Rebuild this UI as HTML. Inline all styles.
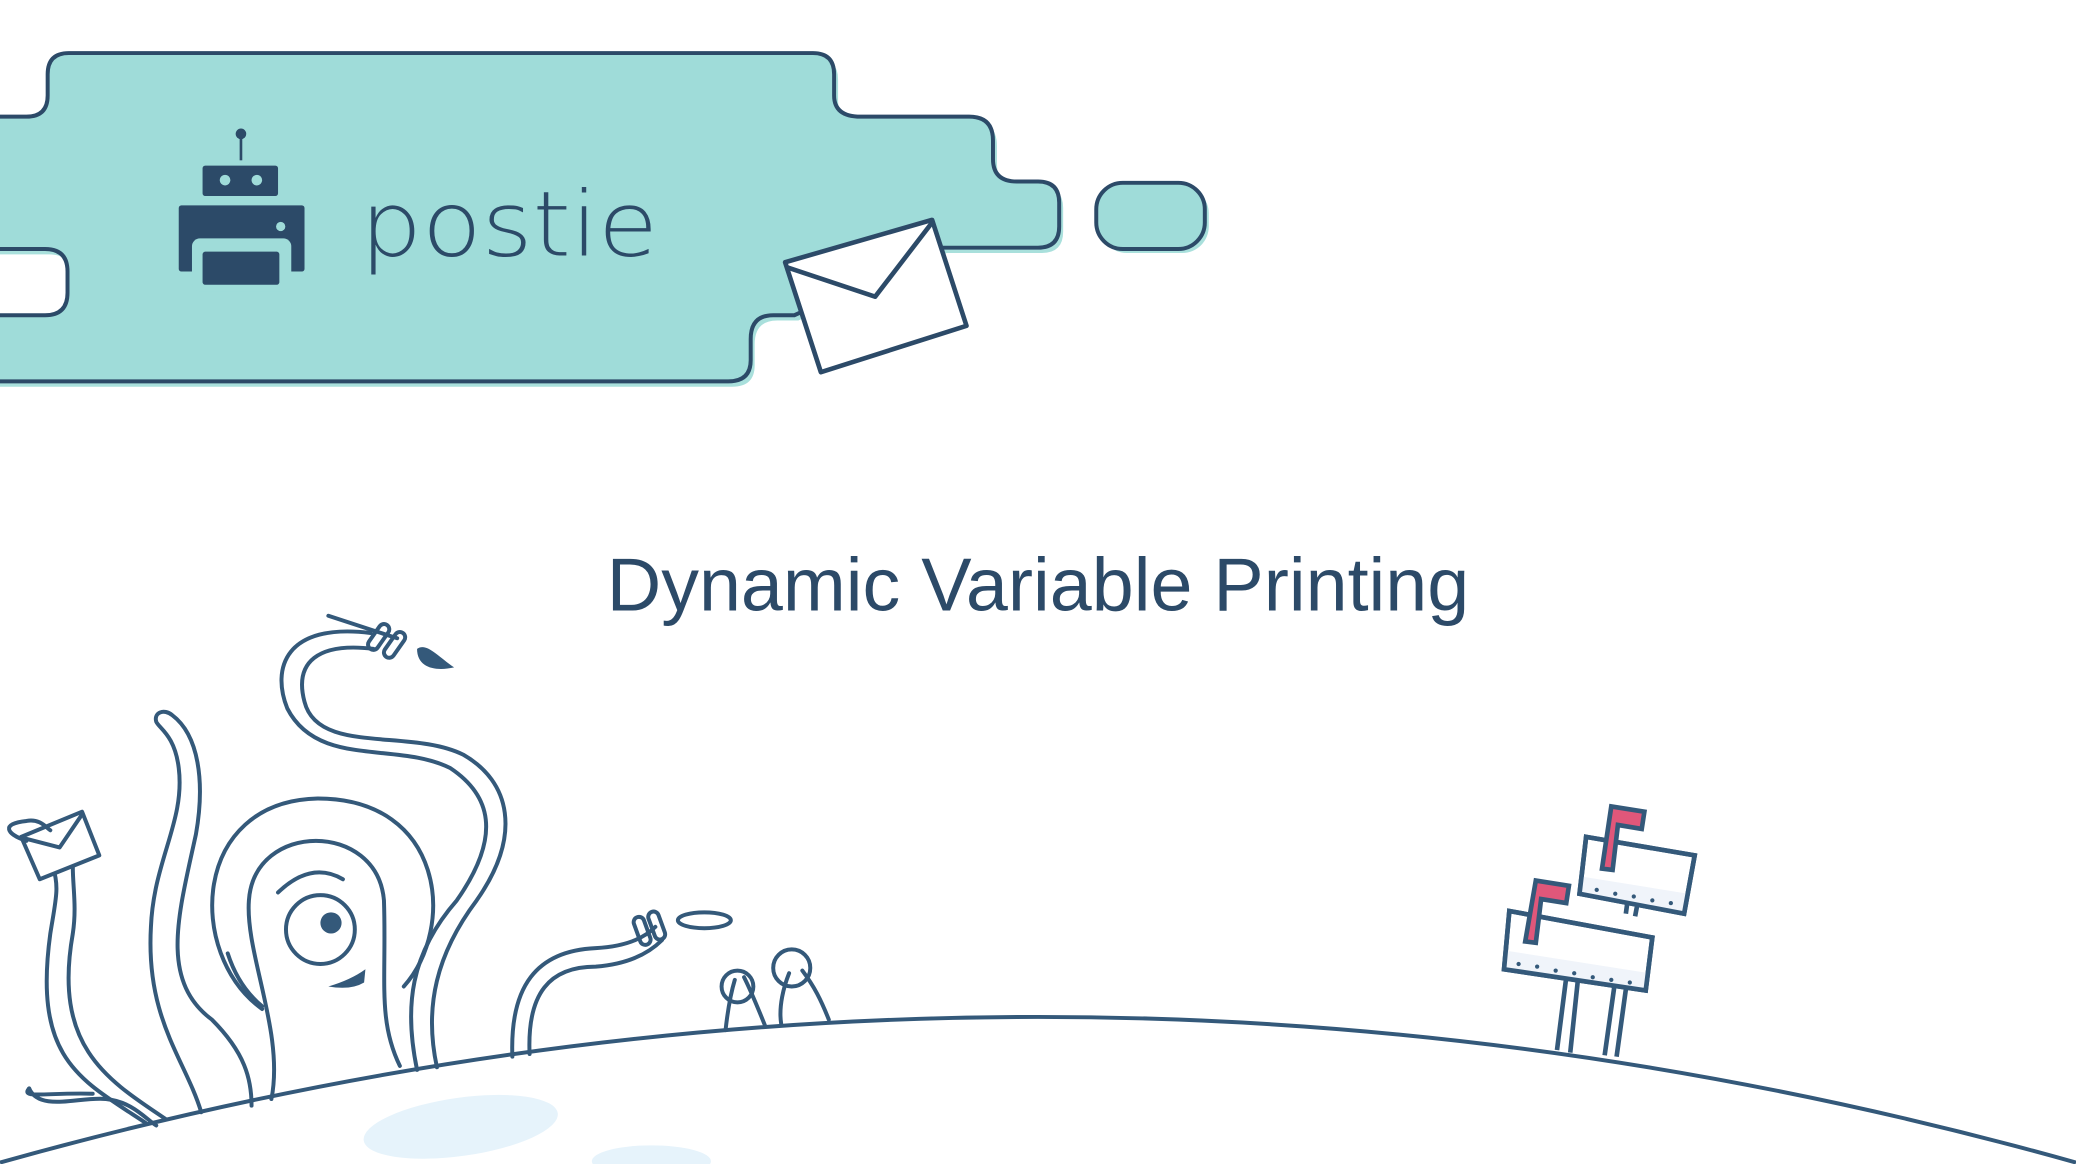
<!DOCTYPE html>
<html><head><meta charset="utf-8"><style>
html,body{margin:0;padding:0;background:#fff;}
svg{display:block;}
</style></head><body>
<svg width="2076" height="1164" viewBox="0 0 1568 879" xmlns="http://www.w3.org/2000/svg">
<defs>
<path id="hdr" d="M-6,88 L20,88 Q36,88 36,72 L36,56 Q36,40 52,40 L614,40 Q630,40 630,56 L630,72 Q630,88 650,88 L732,88 Q750,88 750,106 L750,120 Q750,137 768,137 L784,137 Q800,137 800,153 L800,171 Q800,187 784,187 L712,187 L600,238 L584,238 Q567,238 567,256 L567,272 Q567,288 550,288 L-6,288 L-6,238 L34,238 Q51,238 51,221 L51,205 Q51,188 34,188 L-6,188 Z"/>
</defs>
<!-- header -->
<use href="#hdr" fill="#a9e0dc" transform="translate(3,4)"/>
<use href="#hdr" fill="#9fdcd9" stroke="#2c4a68" stroke-width="3"/>
<rect x="831" y="141" width="82" height="50" rx="20" fill="#a9e0dc"/>
<rect x="828" y="138" width="82" height="50" rx="20" fill="#9fdcd9" stroke="#2c4a68" stroke-width="3"/>
<!-- robot -->
<g fill="#2c4a68">
<circle cx="182" cy="101" r="4"/>
<rect x="181" y="101" width="2" height="20"/>
<rect x="153" y="125" width="57" height="23" rx="2"/>
<rect x="135" y="155" width="95" height="50" rx="2"/>
<rect x="145" y="180" width="75" height="40" rx="6" fill="#9fdcd9"/>
<rect x="153" y="190" width="58" height="25" rx="2"/>
</g>
<circle cx="170" cy="136" r="4" fill="#9fdcd9"/>
<circle cx="194" cy="136" r="4" fill="#9fdcd9"/>
<circle cx="212" cy="171" r="3.5" fill="#9fdcd9"/>
<text x="272" y="193" font-family="DejaVu Sans, Liberation Sans, sans-serif" font-weight="200" font-size="68" textLength="225" lengthAdjust="spacingAndGlyphs" fill="#2c4a68">postie</text>
<!-- envelope -->
<polygon points="593,198 704,166 730,246 620,281" fill="#fff" stroke="#2c4a68" stroke-width="3.5" stroke-linejoin="round"/>
<polyline points="595,202 661,224 704,168" fill="none" stroke="#2c4a68" stroke-width="3.5" stroke-linejoin="round"/>
<!-- title -->
<text x="784" y="461" text-anchor="middle" font-family="Liberation Sans, sans-serif" font-size="57" fill="#2c4a68">Dynamic Variable Printing</text>
<!-- ground -->
<ellipse cx="348" cy="851" rx="74" ry="22" fill="#e6f3fb" transform="rotate(-8 348 851)"/>
<ellipse cx="492" cy="877" rx="45" ry="12" fill="#e6f3fb"/>
<path d="M0,878 Q784,658 1568,878" fill="none" stroke="#34597a" stroke-width="3"/>
<g fill="none" stroke="#34597a" stroke-width="3" stroke-linecap="round" stroke-linejoin="round">
<path d="M198,762 C140,720 145,605 240,603 C335,603 345,700 305,745"/>
<path d="M205,830 C215,780 185,720 188,680 C192,620 285,620 290,680 C292,740 285,770 302,805"/>
<circle cx="242" cy="702" r="26"/>
<path d="M210,674 Q235,650 259,664"/>
<path d="M172,720 Q180,745 198,760"/>
<path d="M152,840 C140,800 110,770 114,700 C116,650 140,620 135,580 C132,555 120,550 118,545 C116,538 124,535 130,540 C150,555 155,590 148,630 C135,690 120,740 160,770 C185,795 190,815 190,835"/>
<path d="M315,808 C305,760 310,720 345,680 C380,630 370,600 340,580 C300,560 240,580 217,535 C205,505 215,470 280,478"/>
<path d="M330,806 C320,760 330,720 360,680 C395,630 385,590 350,570 C310,550 240,570 230,530 C222,500 240,485 282,490"/>
<path d="M248,465 L300,482"/>
<path d="M110,848 C60,815 25,800 38,705 C42,680 45,670 40,655"/>
<path d="M125,845 C80,815 40,790 55,705 C58,685 55,670 55,655"/>
<path d="M22,822 C30,840 60,828 80,830 C100,832 110,845 118,850"/>
<path d="M22,822 C15,830 35,825 70,826"/>
<path d="M387,798 C385,745 405,718 450,716 C470,715 485,710 495,700"/>
<path d="M400,796 C398,750 415,730 450,730 C475,728 490,720 500,710"/>
<ellipse cx="532" cy="695" rx="20" ry="6"/>
<path d="M548,778 C550,760 552,750 555,740 M578,775 C572,760 568,750 562,738"/>
<circle cx="557" cy="745" r="12"/>
<path d="M590,773 C588,760 592,745 596,735 M626,770 C620,755 615,745 606,733"/>
<circle cx="598" cy="731" r="14"/>
<polygon points="16,632 62,613 75,646 30,664" fill="#fff"/>
<polyline points="18,633 45,640 62,615"/>
<path d="M20,635 C5,630 0,622 20,620 C30,618 35,625 38,627"/>
<rect x="282" y="470" width="8" height="22" rx="4" transform="rotate(35 286 481)"/>
<rect x="294" y="476" width="8" height="22" rx="4" transform="rotate(35 298 487)"/>
<rect x="481" y="692" width="8" height="22" rx="4" transform="rotate(-20 485 703)"/>
<rect x="492" y="688" width="8" height="22" rx="4" transform="rotate(-20 496 699)"/>
</g>
<g fill="#34597a">
<circle cx="250" cy="697" r="8"/>
<path d="M248,745 Q265,740 276,732 L275,742 Q265,748 248,745 Z"/>
<path d="M315,490 C322,485 330,495 343,504 C330,507 315,505 315,490 Z"/>
</g>
<!-- mailboxes -->
<g stroke="#34597a" stroke-width="3.5" stroke-linejoin="miter">
<path d="M1176,793 L1183,738 L1192,738 L1186,795 M1212,797 L1220,740 L1229,740 L1221,798" fill="#fff"/>
<path d="M1228,690 L1230,675 L1238,676 L1235,692" fill="#fff"/>
<polygon points="1198,632 1280,646 1272,690 1193,675" fill="#fff"/>
<polygon points="1195,662 1275,675 1272,690 1193,675" fill="#f0f4fa" stroke="none"/>
<polygon points="1198,632 1280,646 1272,690 1193,675" fill="none"/>
<polygon points="1217,609 1242,613 1240,626 1222,623 1218,657 1210,656" fill="#e0577a"/>
<polygon points="1140,688 1248,708 1243,748 1136,732" fill="#fff"/>
<polygon points="1138,718 1246,735 1243,748 1136,732" fill="#f0f4fa" stroke="none"/>
<polygon points="1140,688 1248,708 1243,748 1136,732" fill="none"/>
<polygon points="1160,665 1185,669 1183,682 1164,679 1160,712 1152,711" fill="#e0577a"/>
</g>
<g fill="#34597a">
<circle cx="1147" cy="728" r="1.6"/><circle cx="1161" cy="730" r="1.6"/><circle cx="1175" cy="733" r="1.6"/><circle cx="1189" cy="735" r="1.6"/><circle cx="1203" cy="738" r="1.6"/><circle cx="1217" cy="740" r="1.6"/><circle cx="1231" cy="742" r="1.6"/>
<circle cx="1206" cy="672" r="1.6"/><circle cx="1220" cy="675" r="1.6"/><circle cx="1234" cy="677" r="1.6"/><circle cx="1248" cy="680" r="1.6"/><circle cx="1262" cy="682" r="1.6"/>
</g>
</svg>
</body></html>
